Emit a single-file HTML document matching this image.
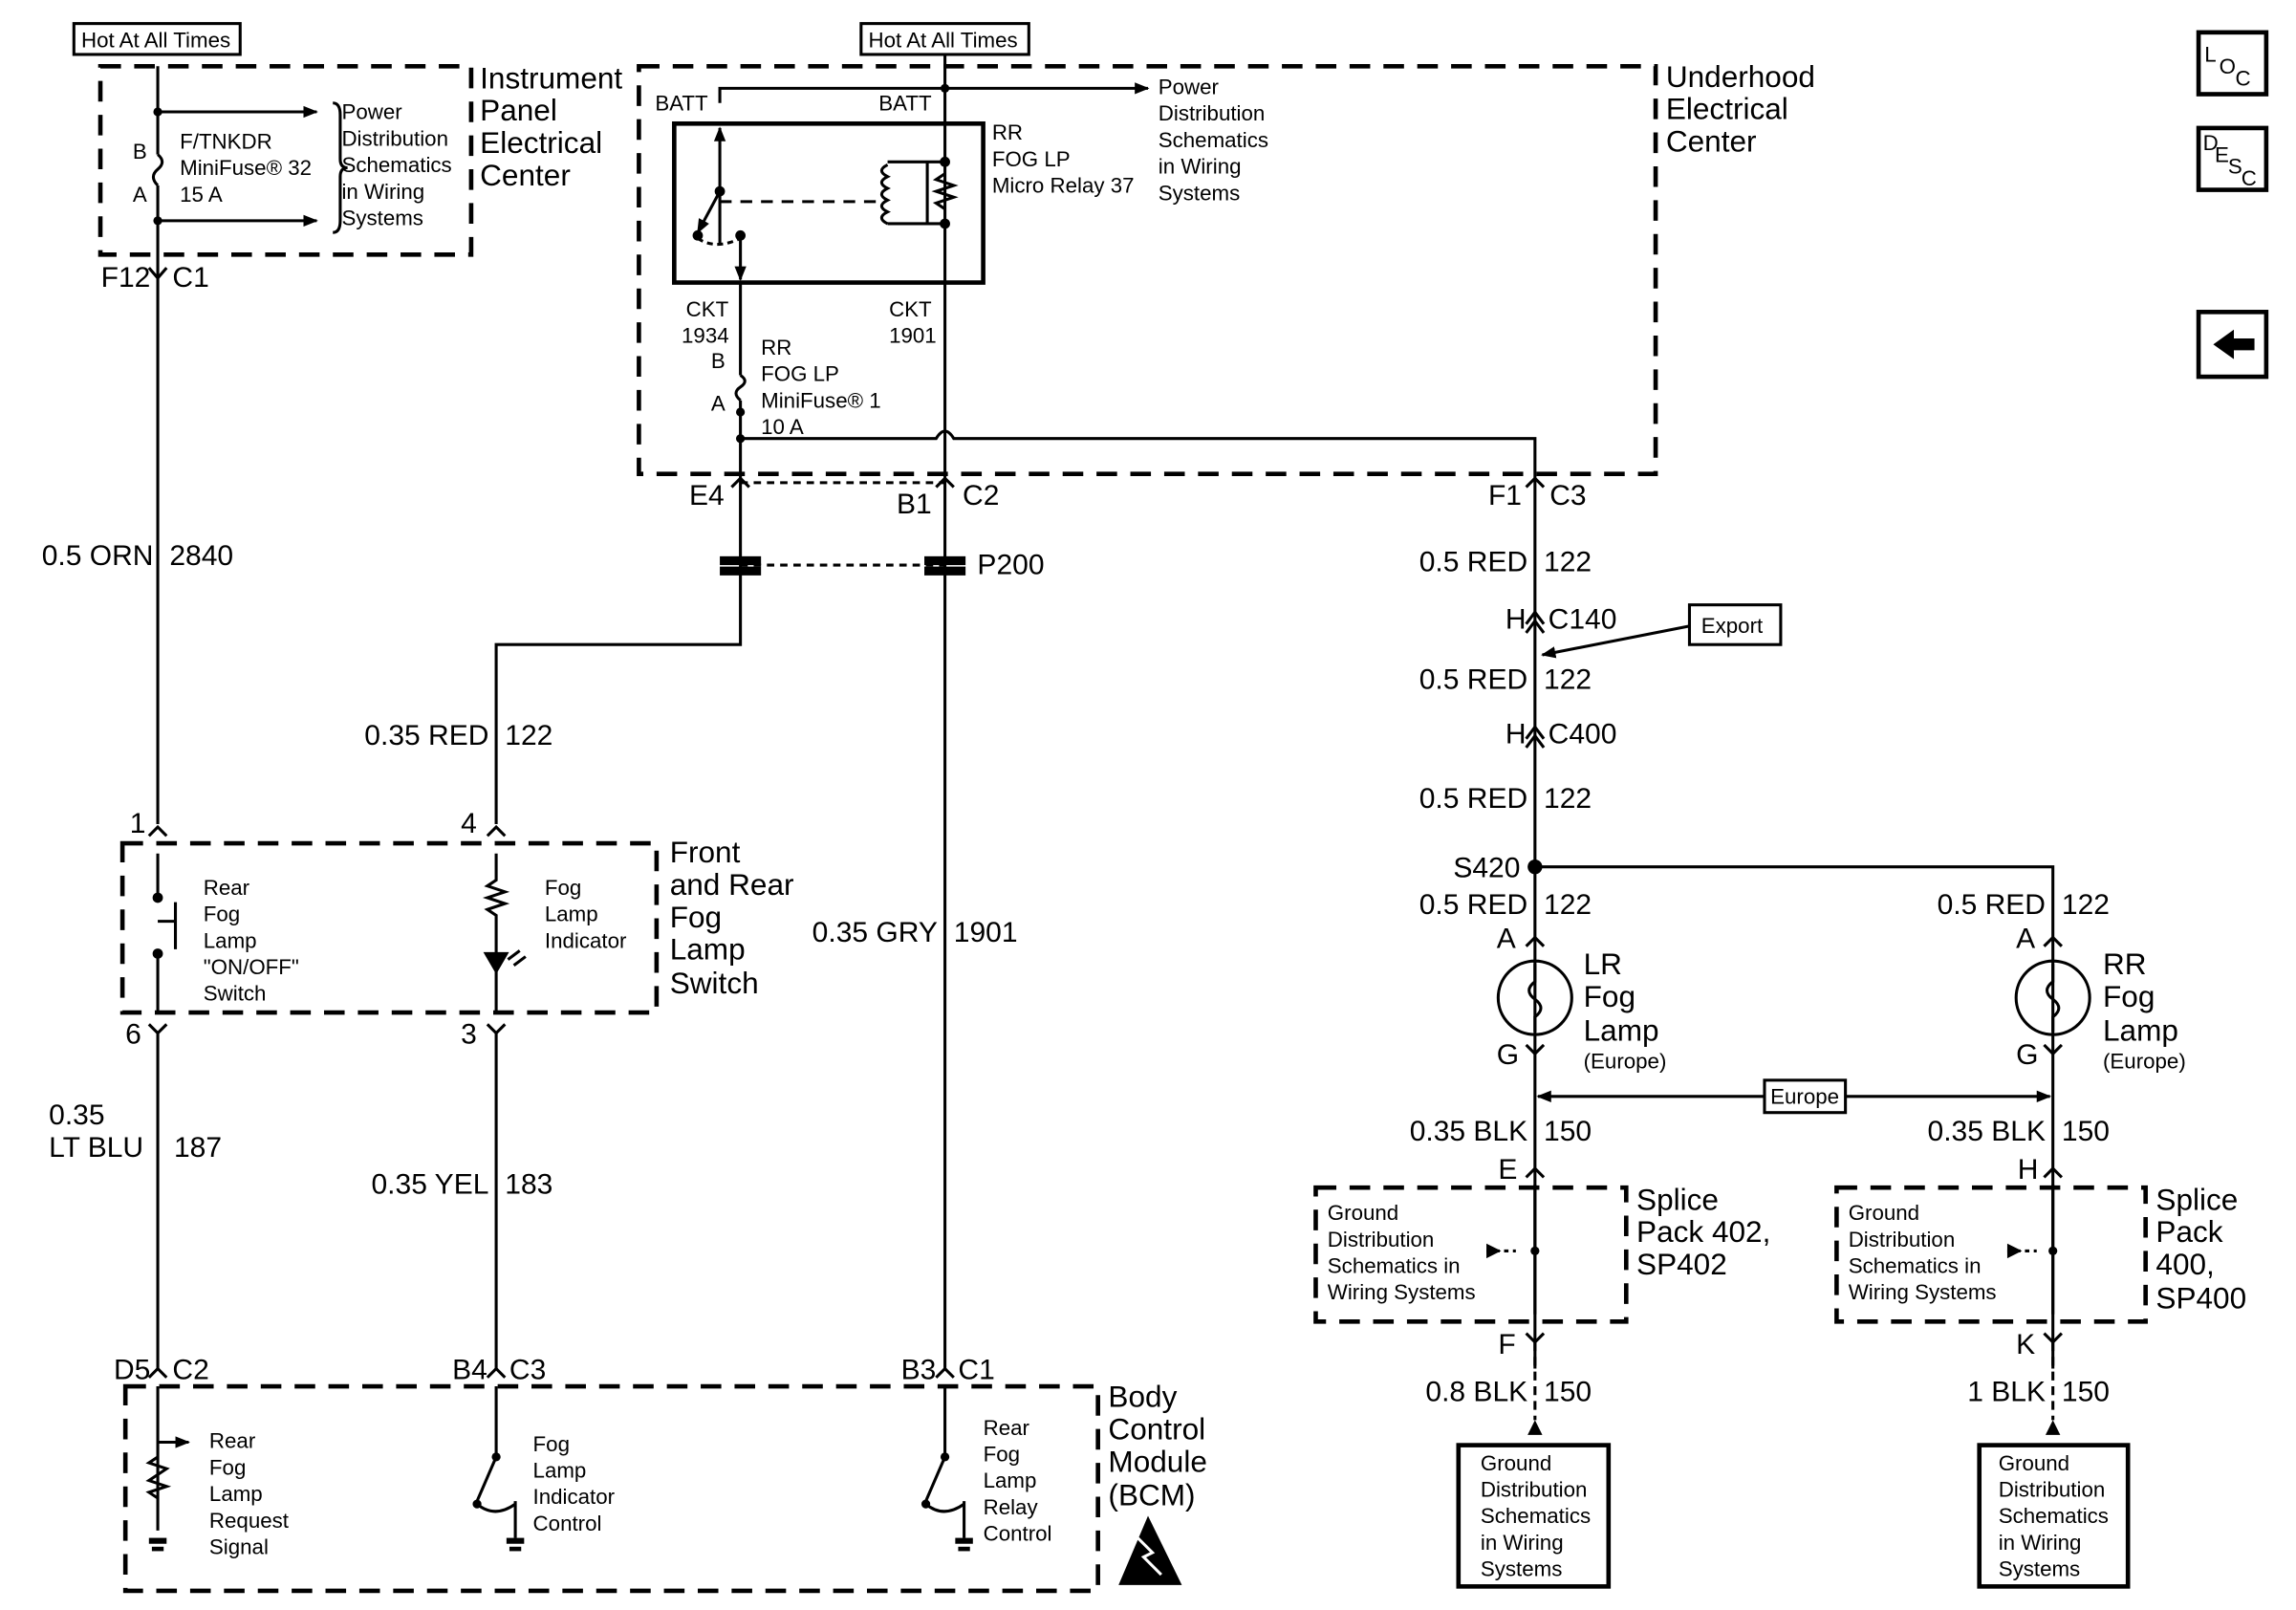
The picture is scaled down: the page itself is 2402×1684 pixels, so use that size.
<!DOCTYPE html>
<html><head><meta charset="utf-8"><style>
html,body{margin:0;padding:0;background:#fff}
svg{display:block}
text{font-family:"Liberation Sans",Arial,sans-serif;fill:#000}
.l{font-size:20.5px}
.m{font-size:19.5px}
.s{font-size:14.5px}
.e{text-anchor:end}
</style></head><body>
<svg width="2402" height="1684" viewBox="0 0 1560 1094" xmlns="http://www.w3.org/2000/svg">
<defs>
<marker id="ar" markerWidth="10" markerHeight="10" refX="9" refY="5" orient="auto" markerUnits="userSpaceOnUse"><path d="M0,1 L10,5 L0,9 z" fill="#000"/></marker>
<marker id="ar2" markerWidth="10" markerHeight="10" refX="1" refY="5" orient="auto" markerUnits="userSpaceOnUse"><path d="M10,1 L0,5 L10,9 z" fill="#000"/></marker>
</defs>
<g fill="none" stroke="#000" stroke-width="2">
<rect x="50" y="16" width="113" height="21"/>
<rect x="585" y="16" width="114" height="21"/>
<g stroke-dasharray="14,9" stroke-width="3">
<rect x="68" y="45" width="252" height="128"/>
<rect x="434" y="45" width="691" height="277"/>
<rect x="83" y="573" width="363" height="115"/>
<rect x="85" y="942" width="661" height="139"/>
<rect x="894" y="807" width="211" height="91"/>
<rect x="1248" y="807" width="210" height="91"/>
</g>
<path d="M107,45 V105 M107,126 V560 M107,702 V930 M337,702 V930"/>
<path d="M107,105 q6,5 0,10 q-6,5 0,11"/>
<path d="M107,76 H215" marker-end="url(#ar)"/>
<path d="M107,150 H215" marker-end="url(#ar)"/>
<path d="M226,70 q5,0 5,8 v30 q0,6 5,6 q-5,0 -5,6 v30 q0,8 -5,8"/>
<path d="M642,37 V930"/>
<path d="M489,70 V60 H780" marker-end="url(#ar)"/>
<rect x="458" y="84" width="210" height="108" stroke-width="3"/>
<path d="M489,165 V87" marker-end="url(#ar)"/>
<path d="M489,130 L474,158" marker-end="url(#ar)"/>
<path d="M503,160 V190" marker-end="url(#ar)"/>
<path d="M474,162 q12,8 29,0" stroke-dasharray="4,3"/>
<path d="M489,137 H600" stroke-dasharray="8,6"/>
<path d="M603,112 q-8,4 0,8 q-8,4 0,8 q-8,4 0,8 q-8,4 0,8 q-8,4 0,8"/>
<path d="M603,110 H642 M603,152 H642 M630,110 V152"/>
<path d="M642,118 l-6,4 l12,4 l-12,4 l12,4 l-12,4 l6,4"/>
<path d="M503,192 V255 M503,272 V330"/>
<path d="M503,255 q6,4 0,8 q-6,4 0,9"/>
<path d="M503,298 H636 q6,-10 12,0 H1043 V930"/>
<path d="M503,328 H642" stroke-dasharray="5,4"/>
<path d="M503,330 V438 H337 V560"/>
<path d="M503,384 H642" stroke-dasharray="5,4"/>
<rect x="490" y="379" width="26" height="4" fill="#000"/><rect x="490" y="386" width="26" height="4" fill="#000"/>
<rect x="629" y="379" width="26" height="4" fill="#000"/><rect x="629" y="386" width="26" height="4" fill="#000"/>
<g stroke-width="2">
<path d="M101,182 L107,189 L113,182"/>
<path d="M497,331 L503,325 L509,331 M636,331 L642,325 L648,331 M1037,331 L1043,325 L1049,331"/>
<path d="M101,568 L107,562 L113,568 M331,568 L337,562 L343,568"/>
<path d="M101,696 L107,702 L113,696 M331,696 L337,702 L343,696"/>
<path d="M101,936 L107,930 L113,936 M331,936 L337,930 L343,936 M636,936 L642,930 L648,936"/>
<path d="M1037,643 L1043,637 L1049,643 M1389,643 L1395,637 L1401,643"/>
<path d="M1037,710 L1043,716 L1049,710 M1389,710 L1395,716 L1401,710"/>
<path d="M1037,800 L1043,794 L1049,800 M1389,800 L1395,794 L1401,800"/>
<path d="M1037,906 L1043,912 L1049,906 M1389,906 L1395,912 L1401,906"/>
<path d="M1037,424 L1043,416 L1049,424 M1037,430 L1043,422 L1049,430"/>
<path d="M1037,502 L1043,494 L1049,502 M1037,508 L1043,500 L1049,508"/>
</g>
<path d="M107,580 V610 M107,648 V688"/>
<path d="M119,613 V645 M107,626 H119"/>
<path d="M337,580 V598 l-6,4 l12,4 l-12,4 l12,4 l-12,4 l6,4 V648 M337,660 V688"/>
<path d="M330,648 H344 L337,660 z" fill="#000"/>
<path d="M345,652 l8,-6 M349,656 l8,-6"/>
<path d="M1150,425 L1048,445" marker-end="url(#ar)"/>
<rect x="1148" y="411" width="62" height="27" fill="#fff"/>
<path d="M1043,589 H1395 V930"/>
<circle cx="1043" cy="678" r="25"/><circle cx="1395" cy="678" r="25"/>
<path d="M1043,655 v12 q-8,6 0,12 q8,6 0,12 v10 M1395,655 v12 q-8,6 0,12 q8,6 0,12 v10"/>
<path d="M1045,745 H1393" marker-start="url(#ar2)" marker-end="url(#ar)"/>
<rect x="1199" y="734" width="55" height="22" fill="#fff"/>
<path d="M1010,850 H1030 M1364,850 H1384" stroke-dasharray="3,3"/>
<path d="M1043,805 V893 M1395,805 V893"/>
<path d="M1043,912 V965 M1395,912 V965" stroke-dasharray="6,4"/>
<rect x="991" y="982" width="102" height="96" stroke-width="3"/>
<rect x="1345" y="982" width="101" height="96" stroke-width="3"/>
<path d="M107,942 V1040 M107,980 H128" marker-end="url(#ar)"/>
<path d="M107,990 l-6,4 l12,4 l-6,4 l-6,4 l12,4 l-12,4 l6,4"/>
<path d="M337,942 V990 L324,1020 M350,1020 V1045 M324,1022 q12,10 26,0"/>
<path d="M642,942 V990 L629,1020 M655,1020 V1045 M629,1022 q12,10 26,0"/>
<rect x="1494" y="22" width="46" height="42" stroke-width="3"/>
<rect x="1494" y="87" width="46" height="42" stroke-width="3"/>
<rect x="1494" y="212" width="46" height="44" stroke-width="3"/>
</g>
<g fill="#000">
<circle cx="107" cy="76" r="3"/><circle cx="107" cy="150" r="3"/>
<circle cx="642" cy="60" r="3"/><circle cx="489" cy="130" r="3.5"/><circle cx="474" cy="160" r="3.5"/><circle cx="503" cy="160" r="3.5"/>
<circle cx="642" cy="110" r="3.5"/><circle cx="642" cy="152" r="3.5"/>
<circle cx="503" cy="280" r="3"/><circle cx="503" cy="298" r="3"/>
<circle cx="107" cy="610" r="3.5"/><circle cx="107" cy="648" r="3.5"/>
<circle cx="1043" cy="589" r="5"/>
<circle cx="1043" cy="850" r="3"/><circle cx="1395" cy="850" r="3"/>
<path d="M1010,845 L1020,850 L1010,855 z M1364,845 L1374,850 L1364,855 z"/>
<path d="M1038,975 L1043,965 L1048,975 z M1390,975 L1395,965 L1400,975 z"/>
<circle cx="337" cy="990" r="3"/><circle cx="324" cy="1022" r="3"/><circle cx="642" cy="990" r="3"/><circle cx="629" cy="1022" r="3"/>
<rect x="101" y="1045" width="12" height="4"/><rect x="344" y="1045" width="12" height="4"/><rect x="649" y="1045" width="12" height="4"/>
<rect x="103" y="1051" width="8" height="3"/><rect x="346" y="1051" width="8" height="3"/><rect x="651" y="1051" width="8" height="3"/>
<path d="M780,1030 L760,1077 L803,1077 z"/>
<path d="M1504,234 L1518,224 V230 H1532 V238 H1518 V244 z"/>
</g>
<path d="M773,1045 l10,10 l-6,3 l12,12" stroke="#fff" stroke-width="2" fill="none"/>
<g>
<text x="55" y="32" class="s">Hot At All Times</text>
<text x="590" y="32" class="s">Hot At All Times</text>
<text x="232" y="81" class="s">Power</text><text x="232" y="99" class="s">Distribution</text><text x="232" y="117" class="s">Schematics</text><text x="232" y="135" class="s">in Wiring</text><text x="232" y="153" class="s">Systems</text>
<text x="122" y="101" class="s">F/TNKDR</text><text x="122" y="119" class="s">MiniFuse® 32</text><text x="122" y="137" class="s">15 A</text>
<text x="90" y="108" class="s">B</text><text x="90" y="137" class="s">A</text>
<text x="326" y="60" class="l">Instrument</text><text x="326" y="82" class="l">Panel</text><text x="326" y="104" class="l">Electrical</text><text x="326" y="126" class="l">Center</text>
<text x="102" y="195" class="m e">F12</text><text x="117" y="195" class="m">C1</text>
<text x="445" y="75" class="s">BATT</text><text x="597" y="75" class="s">BATT</text>
<text x="787" y="64" class="s">Power</text><text x="787" y="82" class="s">Distribution</text><text x="787" y="100" class="s">Schematics</text><text x="787" y="118" class="s">in Wiring</text><text x="787" y="136" class="s">Systems</text>
<text x="674" y="95" class="s">RR</text><text x="674" y="113" class="s">FOG LP</text><text x="674" y="131" class="s">Micro Relay 37</text>
<text x="1132" y="59" class="l">Underhood</text><text x="1132" y="81" class="l">Electrical</text><text x="1132" y="103" class="l">Center</text>
<text x="466" y="215" class="s">CKT</text><text x="463" y="233" class="s">1934</text>
<text x="604" y="215" class="s">CKT</text><text x="604" y="233" class="s">1901</text>
<text x="483" y="250" class="s">B</text><text x="483" y="279" class="s">A</text>
<text x="517" y="241" class="s">RR</text><text x="517" y="259" class="s">FOG LP</text><text x="517" y="277" class="s">MiniFuse® 1</text><text x="517" y="295" class="s">10 A</text>
<text x="492" y="343" class="m e">E4</text><text x="633" y="349" class="m e">B1</text><text x="654" y="343" class="m">C2</text>
<text x="1034" y="343" class="m e">F1</text><text x="1053" y="343" class="m">C3</text>
<text x="664" y="390" class="m">P200</text>
<text x="104" y="384" class="m e">0.5 ORN</text><text x="115" y="384" class="m">2840</text>
<text x="332" y="506" class="m e">0.35 RED</text><text x="343" y="506" class="m">122</text>
<text x="88" y="566" class="m">1</text><text x="313" y="566" class="m">4</text>
<text x="138" y="608" class="s">Rear</text><text x="138" y="626" class="s">Fog</text><text x="138" y="644" class="s">Lamp</text><text x="138" y="662" class="s">"ON/OFF"</text><text x="138" y="680" class="s">Switch</text>
<text x="370" y="608" class="s">Fog</text><text x="370" y="626" class="s">Lamp</text><text x="370" y="644" class="s">Indicator</text>
<text x="455" y="586" class="l">Front</text><text x="455" y="608" class="l">and Rear</text><text x="455" y="630" class="l">Fog</text><text x="455" y="652" class="l">Lamp</text><text x="455" y="675" class="l">Switch</text>
<text x="637" y="640" class="m e">0.35 GRY</text><text x="648" y="640" class="m">1901</text>
<text x="85" y="709" class="m">6</text><text x="313" y="709" class="m">3</text>
<text x="33" y="764" class="m">0.35</text><text x="33" y="786" class="m">LT BLU</text><text x="118" y="786" class="m">187</text>
<text x="332" y="811" class="m e">0.35 YEL</text><text x="343" y="811" class="m">183</text>
<text x="102" y="937" class="m e">D5</text><text x="117" y="937" class="m">C2</text>
<text x="331" y="937" class="m e">B4</text><text x="346" y="937" class="m">C3</text>
<text x="636" y="937" class="m e">B3</text><text x="651" y="937" class="m">C1</text>
<text x="142" y="984" class="s">Rear</text><text x="142" y="1002" class="s">Fog</text><text x="142" y="1020" class="s">Lamp</text><text x="142" y="1038" class="s">Request</text><text x="142" y="1056" class="s">Signal</text>
<text x="362" y="986" class="s">Fog</text><text x="362" y="1004" class="s">Lamp</text><text x="362" y="1022" class="s">Indicator</text><text x="362" y="1040" class="s">Control</text>
<text x="668" y="975" class="s">Rear</text><text x="668" y="993" class="s">Fog</text><text x="668" y="1011" class="s">Lamp</text><text x="668" y="1029" class="s">Relay</text><text x="668" y="1047" class="s">Control</text>
<text x="753" y="956" class="l">Body</text><text x="753" y="978" class="l">Control</text><text x="753" y="1000" class="l">Module</text><text x="753" y="1023" class="l">(BCM)</text>
<text x="1038" y="388" class="m e">0.5 RED</text><text x="1049" y="388" class="m">122</text>
<text x="1037" y="427" class="m e">H</text><text x="1052" y="427" class="m">C140</text>
<text x="1156" y="430" class="s">Export</text>
<text x="1038" y="468" class="m e">0.5 RED</text><text x="1049" y="468" class="m">122</text>
<text x="1037" y="505" class="m e">H</text><text x="1052" y="505" class="m">C400</text>
<text x="1038" y="549" class="m e">0.5 RED</text><text x="1049" y="549" class="m">122</text>
<text x="1033" y="596" class="m e">S420</text>
<text x="1038" y="621" class="m e">0.5 RED</text><text x="1049" y="621" class="m">122</text>
<text x="1390" y="621" class="m e">0.5 RED</text><text x="1401" y="621" class="m">122</text>
<text x="1017" y="644" class="m">A</text><text x="1370" y="644" class="m">A</text>
<text x="1076" y="662" class="l">LR</text><text x="1076" y="684" class="l">Fog</text><text x="1076" y="707" class="l">Lamp</text><text x="1076" y="726" class="s">(Europe)</text>
<text x="1429" y="662" class="l">RR</text><text x="1429" y="684" class="l">Fog</text><text x="1429" y="707" class="l">Lamp</text><text x="1429" y="726" class="s">(Europe)</text>
<text x="1017" y="723" class="m">G</text><text x="1370" y="723" class="m">G</text>
<text x="1203" y="750" class="s">Europe</text>
<text x="1038" y="775" class="m e">0.35 BLK</text><text x="1049" y="775" class="m">150</text>
<text x="1390" y="775" class="m e">0.35 BLK</text><text x="1401" y="775" class="m">150</text>
<text x="1018" y="801" class="m">E</text><text x="1371" y="801" class="m">H</text>
<text x="902" y="829" class="s">Ground</text><text x="902" y="847" class="s">Distribution</text><text x="902" y="865" class="s">Schematics in</text><text x="902" y="883" class="s">Wiring Systems</text>
<text x="1256" y="829" class="s">Ground</text><text x="1256" y="847" class="s">Distribution</text><text x="1256" y="865" class="s">Schematics in</text><text x="1256" y="883" class="s">Wiring Systems</text>
<text x="1112" y="822" class="l">Splice</text><text x="1112" y="844" class="l">Pack 402,</text><text x="1112" y="866" class="l">SP402</text>
<text x="1465" y="822" class="l">Splice</text><text x="1465" y="844" class="l">Pack</text><text x="1465" y="866" class="l">400,</text><text x="1465" y="889" class="l">SP400</text>
<text x="1018" y="920" class="m">F</text><text x="1370" y="920" class="m">K</text>
<text x="1038" y="952" class="m e">0.8 BLK</text><text x="1049" y="952" class="m">150</text>
<text x="1390" y="952" class="m e">1 BLK</text><text x="1401" y="952" class="m">150</text>
<text x="1006" y="999" class="s">Ground</text><text x="1006" y="1017" class="s">Distribution</text><text x="1006" y="1035" class="s">Schematics</text><text x="1006" y="1053" class="s">in Wiring</text><text x="1006" y="1071" class="s">Systems</text>
<text x="1358" y="999" class="s">Ground</text><text x="1358" y="1017" class="s">Distribution</text><text x="1358" y="1035" class="s">Schematics</text><text x="1358" y="1053" class="s">in Wiring</text><text x="1358" y="1071" class="s">Systems</text>
<text x="1498" y="42" class="s">L</text><text x="1508" y="50" class="s">O</text><text x="1519" y="58" class="s">C</text>
<text x="1497" y="102" class="s">D</text><text x="1505" y="110" class="s">E</text><text x="1514" y="118" class="s">S</text><text x="1523" y="126" class="s">C</text>
</g>
</svg>
</body></html>
